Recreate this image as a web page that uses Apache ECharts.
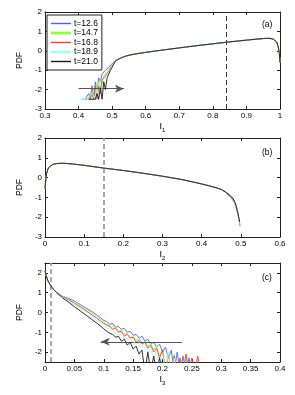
<!DOCTYPE html>
<html><head><meta charset="utf-8">
<script src="https://cdn.jsdelivr.net/npm/echarts@6/dist/echarts.min.js"></script>
<style>html,body{margin:0;padding:0;background:#fff}#c{width:295px;height:395px}</style>
</head><body><div id="c"></div>
<script>
const names = ['t=12.6','t=14.7','t=16.8','t=18.9','t=21.0'];
const colors = ['#4a63ff','#8cff4a','#ff3b3b','#a8ffe6','#1a1a1a'];

// Panel (a): I1
const xA = [0.40,0.405,0.41,0.415,0.42,0.425,0.43,0.435,0.44,0.445,0.45,0.455,0.46,0.465,0.47,0.475,0.48,0.485,0.49,0.495,0.50,
  0.51,0.52,0.53,0.54,0.55,0.57,0.6,0.63,0.66,0.7,0.75,0.8,0.85,0.9,0.93,0.95,0.96,0.97,0.98,0.99,0.995,0.998,1.0];
const aBody = [-0.52,-0.42,-0.34,-0.28,-0.23,-0.16,-0.08,-0.01,0.06,0.15,0.26,0.36,0.46,0.55,0.6,0.63,0.64,0.64,0.6,0.45,0.2,-0.15,-0.6];
const aTail126 = [null,null,-2.5,-2.5,-2.5,-2.5,-2.2,-2.5,-1.8,-2.5,-1.6,-2.0,-1.4,-1.6,-1.2,-1.25,-1.0,-0.95,-0.85,-0.75,-0.65];
const aTail147 = [null,null,null,-2.5,-2.5,-2.5,-2.5,-2.3,-2.5,-1.9,-2.5,-1.7,-2.1,-1.5,-1.7,-1.3,-1.35,-1.05,-1.0,-0.85,-0.72];
const aTail168 = [null,null,null,null,-2.5,-2.5,-2.5,-2.5,-2.3,-2.5,-1.8,-2.5,-1.8,-2.2,-1.5,-1.6,-1.3,-1.2,-1.05,-0.9,-0.78];
const aTail189 = [-2.5,-2.5,-2.5,-2.5,-2.5,-2.5,-2.5,-2.5,-2.5,-2.3,-2.5,-2.0,-2.5,-1.8,-2.2,-1.5,-1.6,-1.3,-1.15,-0.95,-0.8];
const aTail210 = [null,null,null,null,null,null,-2.5,-2.5,-2.5,-2.5,-2.5,-2.2,-2.5,-1.9,-2.5,-1.6,-2.0,-1.4,-1.2,-1.0,-0.85];

// Panel (b): I2
const xB = [0,0.002,0.004,0.007,0.01,0.015,0.02,0.03,0.04,0.05,0.07,0.1,0.15,0.2,0.25,0.3,0.35,0.4,0.42,0.44,0.45,
  0.455,0.46,0.465,0.47,0.475,0.48,0.483,0.486,0.489,0.491,0.493,0.495,0.497,0.498];
const bBody = [-0.55,-0.1,0.2,0.4,0.52,0.62,0.67,0.71,0.72,0.72,0.69,0.62,0.48,0.36,0.22,0.07,-0.1,-0.32,-0.42,-0.53,-0.6];
const bTail126 = [-0.66,-0.72,-0.8,-0.85,-0.95,-1.05,-1.15,-1.3,-1.5,-1.65,-1.85,-2.05,-2.3,null];
const bTail147 = [-0.64,-0.74,-0.78,-0.9,-0.92,-1.1,-1.12,-1.35,-1.45,-1.7,-1.8,-2.1,-2.2,null];
const bTail168 = [-0.68,-0.7,-0.85,-0.82,-1.0,-1.0,-1.25,-1.2,-1.6,-1.55,-1.9,-2.0,-2.3,-2.45];
const bTail189 = [-0.65,-0.73,-0.79,-0.88,-0.96,-1.08,-1.2,-1.3,-1.55,-1.6,-1.9,-2.15,-2.3,null];
const bTail210 = [-0.66,-0.72,-0.8,-0.86,-0.95,-1.05,-1.15,-1.3,-1.5,-1.7,-1.85,-2.05,-2.25,null];

// Panel (c): I3
const xC = [0,0.002,0.005,0.01,0.015,0.02,0.03,0.04,0.05,0.06,0.07,0.08,0.09,0.1,
  0.105,0.11,0.115,0.12,0.125,0.13,0.135,0.14,0.145,0.15,0.155,0.16,0.165,0.17,0.175,0.18,0.185,0.19,0.195,0.2,
  0.205,0.21,0.215,0.22,0.225,0.23,0.235,0.24,0.245,0.25,0.255,0.26,0.265];
const cHead = [2.1,1.85,1.6,1.35,1.15,1.0];
const cMid126 = [0.82,0.7,0.58,0.4,0.22,0.04,-0.16,-0.4];
const cMid147 = [0.8,0.66,0.52,0.34,0.15,-0.04,-0.24,-0.47];
const cMid168 = [0.79,0.63,0.47,0.28,0.08,-0.12,-0.33,-0.55];
const cMid189 = [0.77,0.58,0.4,0.2,-0.02,-0.23,-0.45,-0.68];
const cMid210 = [0.74,0.52,0.3,0.08,-0.14,-0.36,-0.58,-0.82];
const cTail126 = [-0.45,-0.6,-0.55,-0.75,-0.7,-0.85,-0.8,-1.0,-0.95,-1.15,-1.1,-1.3,-1.2,-1.45,-1.35,-1.6,-1.5,-1.75,-1.6,-2.0,-1.75,-2.3,-1.9,-3,-2.0,-3,-2.2,-3,-2.3,-3,null,null,null];
const cTail147 = [-0.6,-0.65,-0.8,-0.75,-0.95,-0.9,-1.1,-1.05,-1.25,-1.2,-1.4,-1.3,-1.55,-1.45,-1.7,-1.55,-1.9,-1.7,-2.2,-1.85,-3,-2.0,-3,-2.1,-3,-2.3,-3,-2.2,-3,null,null,null,null];
const cTail168 = [-0.65,-0.7,-0.85,-0.8,-1.0,-0.95,-1.2,-1.1,-1.3,-1.25,-1.5,-1.4,-1.6,-1.5,-1.8,-1.65,-2.0,-1.8,-2.3,-1.9,-3,-2.1,-3,-2.2,-3,-2.3,-3,-2.1,-3,-2.3,-3,-2.2,-3];
const cTail189 = [-0.75,-0.85,-0.95,-1.0,-1.1,-1.15,-1.3,-1.3,-1.45,-1.45,-1.6,-1.55,-1.8,-1.7,-2.0,-1.85,-2.3,-1.95,-3,-2.1,-3,-2.0,-3,-2.3,-3,null,null,null,null,null,null,null,null];
const cTail210 = [-0.95,-1.05,-1.1,-1.25,-1.2,-1.45,-1.35,-1.65,-1.5,-1.85,-1.7,-2.1,-1.9,-3,-2.0,-3,-2.2,-3,-2.3,-3,null,null,null,null,null,null,null,null,null,null,null,null,null];

const yA = [aTail126,aTail147,aTail168,aTail189,aTail210].map(t => t.concat(aBody));
const yB = [bTail126,bTail147,bTail168,bTail189,bTail210].map(t => bBody.concat(t));
const yC = [[cMid126,cTail126],[cMid147,cTail147],[cMid168,cTail168],[cMid189,cTail189],[cMid210,cTail210]].map(p => cHead.concat(p[0],p[1]));

const F = 'Liberation Sans, Arial, sans-serif';
const AX = '#222';
function pairs(xs, ys){ const out=[]; xs.forEach((x,i)=>{ if(ys[i]!=null) out.push([x,ys[i]]); }); return out; }

const grids = [
  {left:45,top:12,width:235,height:97},
  {left:45,top:138,width:235,height:99},
  {left:45,top:263,width:235,height:99}
];
const xr = [{min:0.3,max:1,interval:0.1,sub:'1'},{min:0,max:0.6,interval:0.1,sub:'2'},{min:0,max:0.4,interval:0.05,sub:'3'}];
const yr = [{min:-3,max:2,interval:1},{min:-3,max:2,interval:1},{min:-2.5,max:2.5,custom:[-2,-1,0,1,2]}];

const xAxis=[], yAxis=[];
grids.forEach((g,i)=>{
  const r = xr[i];
  xAxis.push({type:'value',gridIndex:i,min:r.min,max:r.max,interval:r.interval,position:'bottom',
    axisLine:{onZero:false,lineStyle:{color:AX,width:1}},axisTick:{inside:true,length:3,lineStyle:{color:AX}},
    splitLine:{show:false},
    axisLabel:{color:'#000',fontSize:8,fontFamily:F,margin:3,showMinLabel:true,showMaxLabel:true},
    name:'{i|I}{s|'+r.sub+'}',nameLocation:'middle',nameGap:11,
    nameTextStyle:{rich:{i:{fontSize:9,fontFamily:F,color:'#000'},s:{fontSize:6,fontFamily:F,color:'#000',padding:[7,0,0,0]}}}
  });
  xAxis.push({type:'value',gridIndex:i,min:r.min,max:r.max,interval:r.interval,position:'top',
    axisLine:{onZero:false,lineStyle:{color:AX,width:1}},axisTick:{inside:true,length:3,lineStyle:{color:AX}},
    axisLabel:{show:false},splitLine:{show:false}});
  const y = yr[i];
  const yl = {type:'value',gridIndex:i,min:y.min,max:y.max,position:'left',
    axisLine:{show:true,onZero:false,lineStyle:{color:AX,width:1}},splitLine:{show:false},
    axisTick:{show:true,inside:true,length:3,lineStyle:{color:AX}},
    axisLabel:{color:'#000',fontSize:8,fontFamily:F,margin:3},
    name:'PDF',nameLocation:'middle',nameGap:17,nameRotate:90,
    nameTextStyle:{fontSize:8.5,fontFamily:F,color:'#000'}};
  const yr2 = {type:'value',gridIndex:i,min:y.min,max:y.max,position:'right',
    axisLine:{show:true,onZero:false,lineStyle:{color:AX,width:1}},splitLine:{show:false},
    axisTick:{show:true,inside:true,length:3,lineStyle:{color:AX}},axisLabel:{show:false}};
  if (y.custom){
    yl.axisLabel.customValues = y.custom; yl.axisTick.customValues = y.custom;
    yr2.axisTick.customValues = y.custom;
  } else { yl.interval = y.interval; yr2.interval = y.interval; }
  yAxis.push(yl); yAxis.push(yr2);
});

const series=[];
const panels = [[xA,yA],[xB,yB],[xC,yC]];
panels.forEach((p,pi)=>{
  p[1].forEach((ys,si)=>{
    series.push({type:'line',name:names[si],xAxisIndex:pi*2,yAxisIndex:pi*2,data:pairs(p[0],ys),
      symbol:'none',showSymbol:false,animation:false,clip:true,z:2+si,
      lineStyle:{color:colors[si],width:0.9},itemStyle:{color:colors[si]}});
  });
});
// dashed reference lines and arrows
const dashed = [
  {x:0.845,color:'#333',width:1,type:[5,3]},
  {x:0.15,color:'#a0a0a0',width:1.8,type:[5,3]},
  {x:0.01,color:'#a0a0a0',width:1.8,type:[5,3]}
];
const arrows = [
  {from:[0.40,-1.95],to:[0.535,-1.95]},
  null,
  {from:[0.233,-1.48],to:[0.095,-1.48]}
];
dashed.forEach((d,pi)=>{
  const s = series[pi*5+4];
  const data = [{xAxis:d.x,lineStyle:{color:d.color,width:d.width,type:d.type},symbol:'none'}];
  if (arrows[pi]) data.push([{coord:arrows[pi].from,symbol:'none'},{coord:arrows[pi].to,symbol:'arrow',symbolSize:[6,9]}]);
  s.markLine = {silent:true,animation:false,symbol:['none','none'],label:{show:false},
    lineStyle:{color:'#555',width:1,type:'solid'},emphasis:{disabled:true},data:data};
});

const thin = 'path://M0,0H20V1.4H0Z';
const thick = 'path://M0,0H20V2.8H0Z';
const chart = echarts.init(document.getElementById('c'),null,{renderer:'canvas'});
chart.setOption({
  animation:false,
  backgroundColor:'#fff',
  grid:grids,
  xAxis:xAxis,yAxis:yAxis,series:series,
  legend:{show:true,orient:'vertical',left:47,top:15,backgroundColor:'#fff',borderColor:'#222',borderWidth:1,
    padding:[4,4,4,4],itemWidth:20,itemHeight:9,itemGap:0.5,symbolKeepAspect:true,
    textStyle:{fontSize:8.5,fontFamily:F,color:'#000',padding:[0,0,0,-2]},
    data:[
      {name:names[0],icon:thin},
      {name:names[1],icon:thick},
      {name:names[2],icon:thin},
      {name:names[3],icon:thick},
      {name:names[4],icon:thin}
    ]},
  graphic:[
    {type:'text',left:262,top:20,style:{text:'(a)',fontSize:8.5,fontFamily:F,fill:'#000'}},
    {type:'text',left:262,top:148,style:{text:'(b)',fontSize:8.5,fontFamily:F,fill:'#000'}},
    {type:'text',left:262,top:273,style:{text:'(c)',fontSize:8.5,fontFamily:F,fill:'#000'}}
  ]
});
</script></body></html>
